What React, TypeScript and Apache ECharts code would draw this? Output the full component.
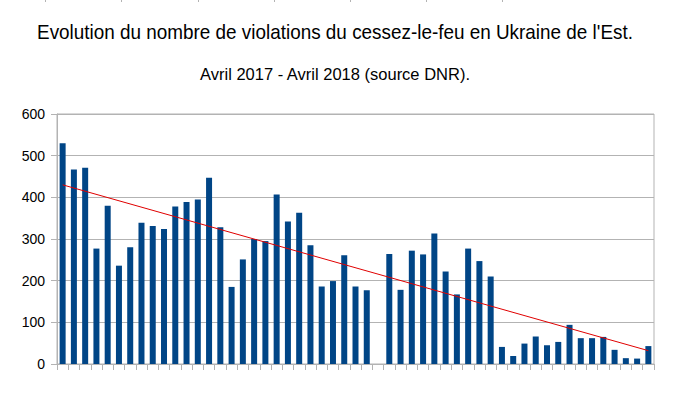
import React, { useEffect, useRef } from "react";
import * as echarts from "echarts";

const weeks: string[] = Array.from({ length: 53 }, (_, i) => `S${i + 1}`);

const violations: (number | null)[] = [
  530, 467, 471, 277, 380, 236, 280, 339, 331, 324,
  378, 389, 395, 447, 328, 185, 251, 300, 295, 407,
  342, 363, 285, 186, 199, 261, 186, 177, null, 264,
  178, 272, 263, 313, 222, 167, 277, 247, 210, 41,
  19, 49, 66, 45, 53, 94, 62, 62, 65, 34,
  14, 13, 43,
];

const trendStart = 430;
const trendEnd = 32;

const yTicks = [0, 100, 200, 300, 400, 500, 600];

const titleText = "Evolution du nombre de violations du cessez-le-feu en Ukraine de l'Est.";
const subtitleText = "Avril 2017 - Avril 2018 (source DNR).";

const topMarks = [45, 121, 198, 274, 350, 426, 502];

export default function App() {
  const ref = useRef<HTMLDivElement>(null);
  useEffect(() => {
    document.body.style.margin = "0";
    if (!ref.current) return;
    const chart = echarts.init(ref.current, undefined, { renderer: "svg" });
    const gray = "#b3b3b3";
    const font = "'Liberation Sans', Arial, sans-serif";
    chart.setOption({
      animation: false,
      backgroundColor: "#ffffff",
      graphic: [
        ...topMarks.map((x) => ({
          type: "line",
          shape: { x1: x + 0.5, y1: 0, x2: x + 0.5, y2: 2 },
          style: { stroke: gray, lineWidth: 1 },
        })),
        {
          type: "text",
          x: 335,
          y: 32,
          scaleX: 0.9,
          style: {
            x: 0,
            y: 0,
            text: titleText,
            fontFamily: font,
            fontSize: 21,
            fill: "#000000",
            textAlign: "center",
            textVerticalAlign: "middle",
          },
        },
        {
          type: "text",
          x: 335,
          y: 73.5,
          style: {
            x: 0,
            y: 0,
            text: subtitleText,
            fontFamily: font,
            fontSize: 16.5,
            fill: "#000000",
            textAlign: "center",
            textVerticalAlign: "middle",
          },
        },
      ],
      grid: {
        left: 57,
        right: 19,
        top: 114,
        bottom: 33,
        show: true,
        borderColor: gray,
        borderWidth: 1,
      },
      xAxis: {
        type: "category",
        data: weeks,
        boundaryGap: true,
        axisLine: { show: true, lineStyle: { color: gray } },
        axisTick: { show: true, interval: 0, length: 6, lineStyle: { color: gray } },
        axisLabel: { show: false },
        splitLine: { show: false },
      },
      yAxis: {
        type: "value",
        min: yTicks[0],
        max: yTicks[yTicks.length - 1],
        interval: 100,
        axisLine: { show: true, lineStyle: { color: gray } },
        axisTick: { show: true, length: 6, lineStyle: { color: gray } },
        axisLabel: {
          margin: 12,
          fontFamily: font,
          fontSize: 14,
          color: "#000000",
        },
        splitLine: { show: true, lineStyle: { color: gray } },
      },
      series: [
        {
          type: "bar",
          data: violations,
          barWidth: 6,
          itemStyle: { color: "#004586" },
          markLine: {
            silent: true,
            symbol: ["none", "none"],
            label: { show: false },
            lineStyle: { color: "#e00000", width: 1, type: "solid" },
            data: [
              [
                { coord: [weeks[0], trendStart] },
                { coord: [weeks[weeks.length - 1], trendEnd] },
              ],
            ],
          },
        },
      ],
    });
    return () => chart.dispose();
  }, []);
  return <div ref={ref} style={{ width: 673, height: 397 }} />;
}
